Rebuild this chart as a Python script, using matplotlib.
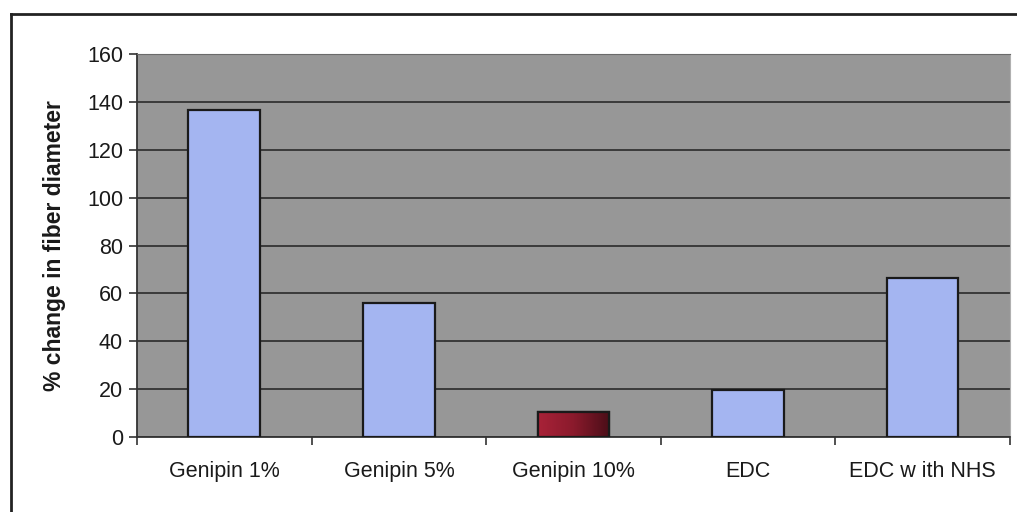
import matplotlib
matplotlib.use("Agg")
import matplotlib.pyplot as plt
import numpy as np
from matplotlib.lines import Line2D
from matplotlib.colors import LinearSegmentedColormap

plt.rcParams['font.family'] = ['Liberation Sans', 'DejaVu Sans']

categories = ["Genipin 1%", "Genipin 5%", "Genipin 10%", "EDC", "EDC w ith NHS"]
values = [136.5, 56, 10.5, 19.5, 66.5]
highlight = "Genipin 10%"
y_ticks = [0, 20, 40, 60, 80, 100, 120, 140, 160]

fig = plt.figure(figsize=(10.17, 5.12), dpi=100)
fig.patch.set_facecolor("white")
ax = fig.add_axes([0.1347, 0.1465, 0.8584, 0.748])
ax.set_facecolor("#979797")

x = np.arange(len(categories))
bar_colors = ["#a4b5f1" if c != highlight else "#7b1c2c" for c in categories]
bars = ax.bar(x, values, width=0.41, color=bar_colors, edgecolor="#1a1a1a",
              linewidth=1.6, zorder=3)

# dark red gradient fill for the highlighted bar
grad_cmap = LinearSegmentedColormap.from_list("maroon", ["#a82238", "#8a1a2c", "#4a0e18"])
for b, c in zip(bars, categories):
    if c == highlight:
        bx, by = b.get_x(), b.get_y()
        bw, bh = b.get_width(), b.get_height()
        grad = np.linspace(0, 1, 64).reshape(1, -1)
        im = ax.imshow(grad, extent=[bx, bx + bw, by, by + bh], aspect="auto",
                       cmap=grad_cmap, zorder=3.5, origin="lower")
        im.set_clip_path(b)
        edge = plt.Rectangle((bx, by), bw, bh, fill=False, edgecolor="#1a1a1a",
                             linewidth=1.6, zorder=4)
        ax.add_patch(edge)

ax.set_xlim(-0.5, len(categories) - 0.5)
ax.set_ylim(0, 160)
ax.set_yticks(y_ticks)
ax.set_yticklabels([str(t) for t in y_ticks], fontsize=15.5, color="#1a1a1a")
ax.grid(axis="y", color="#2a2a2a", linewidth=1.2, zorder=1)
ax.set_axisbelow(True)

ax.set_xticks(x)
ax.set_xticklabels(categories, fontsize=15.5, color="#1a1a1a")
ax.set_xticks(np.arange(-0.5, len(categories)), minor=True)
ax.tick_params(axis="x", which="major", length=0, pad=17)
ax.tick_params(axis="x", which="minor", length=6, width=1.2, color="#333333", direction="out")
ax.tick_params(axis="y", length=6, width=1.2, color="#333333", direction="out", pad=4)

ax.spines["left"].set_color("#333333")
ax.spines["bottom"].set_color("#333333")
ax.spines["left"].set_linewidth(1.3)
ax.spines["bottom"].set_linewidth(1.3)
ax.spines["top"].set_color("#6a6a6a")
ax.spines["right"].set_color("#b0b0b0")

ax.set_ylabel("% change in fiber diameter", fontsize=16.5, fontweight="bold",
              color="#1a1a1a", labelpad=15)

# outer frame lines around the chart
fig.add_artist(Line2D([10.5 / 1017, 10.5 / 1017], [1 - 13.5 / 512, 0],
                      transform=fig.transFigure, color="#222222", linewidth=2))
fig.add_artist(Line2D([10.5 / 1017, 1], [1 - 13.5 / 512, 1 - 13.5 / 512],
                      transform=fig.transFigure, color="#222222", linewidth=2))

fig.savefig("out.png", dpi=100, facecolor="white")
